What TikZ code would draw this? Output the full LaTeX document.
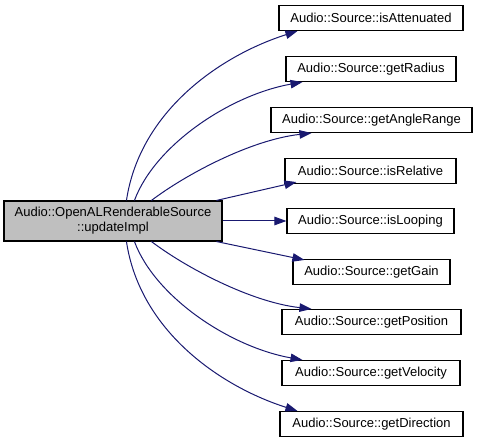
\documentclass[tikz,border=0pt]{standalone}
\usepackage{fontspec}
\setmainfont{Liberation Sans}
\usetikzlibrary{arrows.meta,calc}
\definecolor{edgeblue}{HTML}{191970}
\definecolor{mainfill}{HTML}{BFBFBF}
\tikzset{
  fn/.style={draw=black, line width=1.1pt, fill=white, inner sep=0pt, minimum height=25pt,
    font=\fontsize{13}{15}\selectfont, anchor=center},
  mainfn/.style={fn, fill=mainfill, minimum height=40pt, align=center},
  call/.style={draw=edgeblue, line width=1pt, -{Triangle[length=12pt,width=8.5pt]}, fill=none},
}
\begin{document}
\begin{tikzpicture}[x=1pt,y=-1pt]
\useasboundingbox (0,0) rectangle (477,443);
\node[mainfn, minimum width=218pt] (L) at (113,221) {Audio::OpenALRenderableSource\\::updateImpl};
\node[fn, minimum width=184pt] (T1) at (371,18) {Audio::Source::isAttenuated};
\node[fn, minimum width=170pt] (T2) at (371,69) {Audio::Source::getRadius};
\node[fn, minimum width=201pt] (T3) at (371.5,120) {Audio::Source::getAngleRange};
\node[fn, minimum width=171pt] (T4) at (370.5,171) {Audio::Source::isRelative};
\node[fn, minimum width=167pt] (T5) at (370.5,221) {Audio::Source::isLooping};
\node[fn, minimum width=157pt] (T6) at (371.5,272) {Audio::Source::getGain};
\node[fn, minimum width=179pt] (T7) at (371.5,322) {Audio::Source::getPosition};
\node[fn, minimum width=178pt] (T8) at (371,373) {Audio::Source::getVelocity};
\node[fn, minimum width=183pt] (T9) at (371.5,424) {Audio::Source::getDirection};

\draw[call] ($(L.north west)+(123,0)$) .. controls (140,110) and (222,55) .. ($(T1.south west)+(19,0)$);
\draw[call] ($(L.north west)+(131,0)$) .. controls (155,145) and (230,95) .. ($(T2.south west)+(17,0)$);
\draw[call] ($(L.north west)+(148,0)$) .. controls (185,175) and (250,140) .. ($(T3.south west)+(41,0)$);
\draw[call] ($(L.north west)+(213,0)$) -- ($(T4.south west)+(12,-2)$);
\draw[call] (L.east) -- (T5.west);
\draw[call] ($(L.south west)+(213,0)$) -- ($(T6.north west)+(12,1)$);
\draw[call] ($(L.south west)+(148,0)$) .. controls (185,267) and (250,302) .. ($(T7.north west)+(30,0)$);
\draw[call] ($(L.south west)+(131,0)$) .. controls (155,297) and (230,347) .. ($(T8.north west)+(21,0)$);
\draw[call] ($(L.south west)+(123,0)$) .. controls (140,332) and (222,387) .. ($(T9.north west)+(18,0)$);
\end{tikzpicture}
\end{document}
